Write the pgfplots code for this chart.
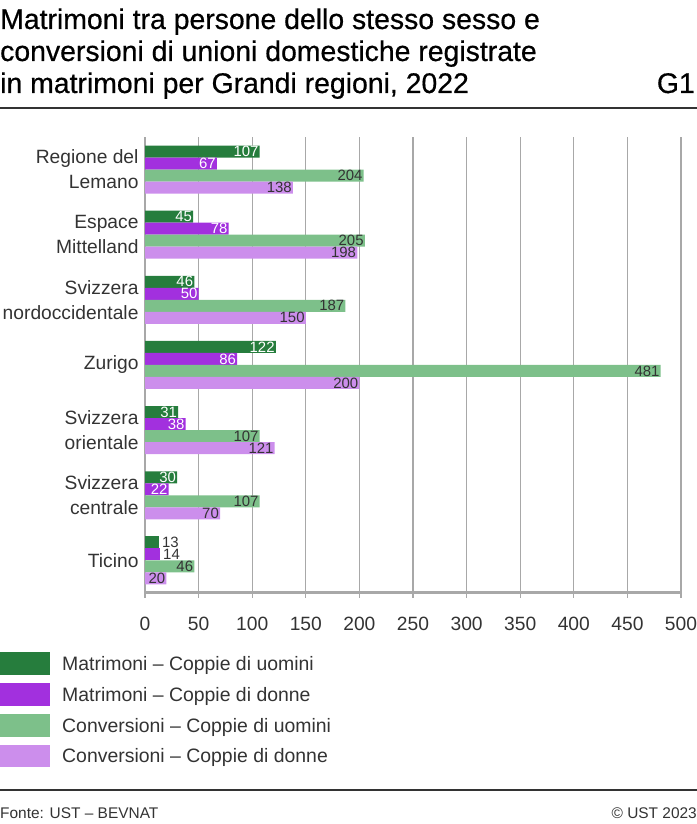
\documentclass[border=0pt]{standalone}
\usepackage{fontspec}
\setmainfont{Liberation Sans}
\newfontfamily\titlefont[FakeBold=0.6]{Liberation Sans}
\usepackage{pgfplots}
\pgfplotsset{compat=1.18}
\definecolor{cdg}{HTML}{267D3D}
\definecolor{cpu}{HTML}{A230DE}
\definecolor{clg}{HTML}{7DC08A}
\definecolor{cla}{HTML}{CC8EEC}
\definecolor{cgrid}{HTML}{A8A8A8}
\definecolor{ctxt}{HTML}{333333}
\begin{document}
\begin{tikzpicture}[x=1bp,y=1bp]
\useasboundingbox (0,0) rectangle (697,824);
\begin{axis}[
  at={(145bp,231bp)}, anchor=south west,
  scale only axis, width=536bp, height=456bp,
  xbar, bar width=12bp,
  xmin=0, xmax=500, ymin=-0.5, ymax=6.5,
  xtick={0,50,...,500}, ytick={0,...,6},
  yticklabels={{Ticino},{Svizzera\\centrale},{Svizzera\\orientale},{Zurigo},{Svizzera\\nordoccidentale},{Espace\\Mittelland},{Regione del\\Lemano}},
  yticklabel style={align=right, font=\fontsize{19.3}{25}\selectfont, text=ctxt, xshift=2bp},
  xticklabel style={font=\fontsize{19.3}{22}\selectfont, text=ctxt, yshift=-16bp},
  /pgf/number format/assume math mode=true,
  axis x line*=bottom, axis y line*=left,
  axis line style={-, draw=cgrid, line width=1.5bp},
  x axis line style={line width=3bp},
  xmajorgrids, grid style={cgrid, line width=1.2bp},
  tick align=outside, major tick length=5bp,
  xtick style={cgrid, line width=1.2bp},
  ytick style={draw=none},
  nodes near coords={\pgfmathprintnumber[assume math mode=true]{\pgfplotspointmeta}},
  nodes near coords style={font=\fontsize{15}{15}\selectfont, anchor=east, inner xsep=1bp, inner ysep=0bp},
]
% Matrimoni - uomini
\addplot[fill=cdg, draw=none, bar shift=18bp, nodes near coords style={text=white}]
  coordinates {(107,6) (45,5) (46,4) (122,3) (31,2) (30,1)};
\addplot[fill=cdg, draw=none, bar shift=18bp, nodes near coords style={text=ctxt, anchor=west, inner xsep=3bp}]
  coordinates {(13,0)};
% Matrimoni - donne
\addplot[fill=cpu, draw=none, bar shift=6bp, nodes near coords style={text=white}]
  coordinates {(67,6) (78,5) (50,4) (86,3) (38,2) (22,1)};
\addplot[fill=cpu, draw=none, bar shift=6bp, nodes near coords style={text=ctxt, anchor=west, inner xsep=3bp}]
  coordinates {(14,0)};
% Conversioni - uomini
\addplot[fill=clg, draw=none, bar shift=-6bp, nodes near coords style={text=ctxt}]
  coordinates {(204,6) (205,5) (187,4) (481,3) (107,2) (107,1) (46,0)};
% Conversioni - donne
\addplot[fill=cla, draw=none, bar shift=-18bp, nodes near coords style={text=ctxt}]
  coordinates {(138,6) (198,5) (150,4) (200,3) (121,2) (70,1) (20,0)};
\end{axis}
% Title
\node[anchor=base west, inner sep=0, text=black, font=\titlefont\fontsize{28.5}{32}\selectfont] at (0,795) {Matrimoni tra persone dello stesso sesso e};
\node[anchor=base west, inner sep=0, text=black, font=\titlefont\fontsize{28.5}{32}\selectfont] at (0,763) {conversioni di unioni domestiche registrate};
\node[anchor=base west, inner sep=0, text=black, font=\titlefont\fontsize{28.5}{32}\selectfont] at (0,731) {in matrimoni per Grandi regioni, 2022};
\node[anchor=base east, inner sep=0, text=black, font=\titlefont\fontsize{28.5}{32}\selectfont] at (695,731) {G1};
\draw[line width=2bp, ctxt] (0,716) -- (697,716);
% Legend
\fill[cdg] (0,149) rectangle (50,172);
\fill[cpu] (0,118) rectangle (50,141);
\fill[clg] (0,87) rectangle (50,110);
\fill[cla] (0,57) rectangle (50,79);
\node[anchor=base west, inner sep=0, text=ctxt, font=\fontsize{19.5}{22}\selectfont] at (62,153.5) {Matrimoni -- Coppie di uomini};
\node[anchor=base west, inner sep=0, text=ctxt, font=\fontsize{19.5}{22}\selectfont] at (62,122.5) {Matrimoni -- Coppie di donne};
\node[anchor=base west, inner sep=0, text=ctxt, font=\fontsize{19.5}{22}\selectfont] at (62,91.5) {Conversioni -- Coppie di uomini};
\node[anchor=base west, inner sep=0, text=ctxt, font=\fontsize{19.5}{22}\selectfont] at (62,61) {Conversioni -- Coppie di donne};
% Footer
\draw[line width=1.5bp, ctxt] (0,34) -- (697,34);
\node[anchor=base west, inner sep=0, text=ctxt, font=\fontsize{15.5}{18}\selectfont] at (0,5) {Fonte: UST -- BEVNAT};
\node[anchor=base east, inner sep=0, text=ctxt, font=\fontsize{15.5}{18}\selectfont] at (697,5) {© UST 2023};
\end{tikzpicture}
\end{document}
